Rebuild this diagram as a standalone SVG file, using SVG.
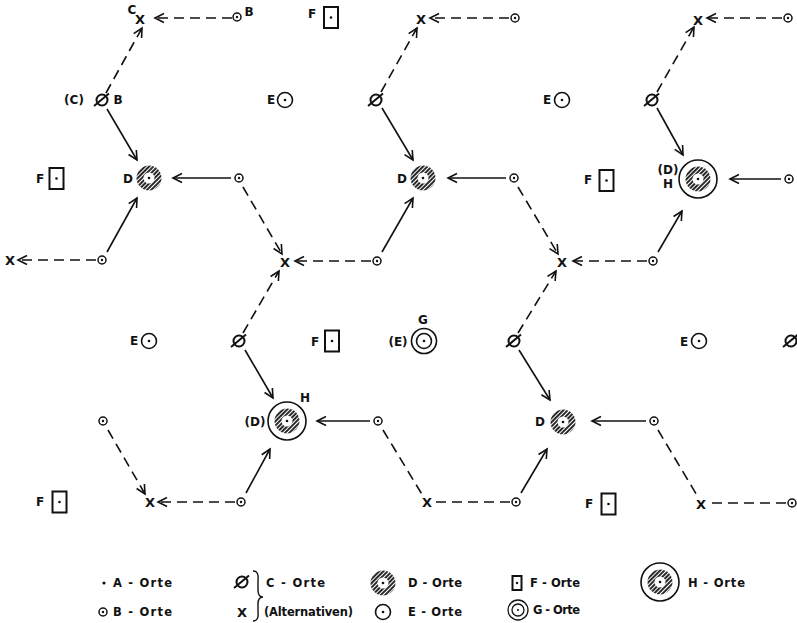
<svg xmlns="http://www.w3.org/2000/svg" xmlns:xlink="http://www.w3.org/1999/xlink" width="797" height="623" viewBox="0 0 797 623">
<style>
.t{font-family:"DejaVu Sans","Liberation Sans",sans-serif;font-weight:bold;font-size:12px;fill:#111;text-anchor:middle}
.x{font-family:"DejaVu Sans","Liberation Sans",sans-serif;font-weight:bold;font-size:13px;fill:#111;text-anchor:middle}
.lg{font-family:"DejaVu Sans","Liberation Sans",sans-serif;font-weight:bold;font-size:11.5px;fill:#111}
.s{fill:none;stroke:#111;stroke-width:1.6}
.d{fill:none;stroke:#111;stroke-width:1.6;stroke-dasharray:10 6}
.a{marker-end:url(#ah)}
</style>
<defs>
<marker id="ah" markerUnits="userSpaceOnUse" markerWidth="12" markerHeight="10" refX="9" refY="4.5" orient="auto" overflow="visible">
<path d="M0,0 L9,4.5 L0,9" fill="none" stroke="#111" stroke-width="1.6"/>
</marker>
<pattern id="hat" patternUnits="userSpaceOnUse" width="3" height="3" patternTransform="rotate(45)">
<rect width="3" height="3" fill="#fff"/>
<line x1="1" y1="0" x2="1" y2="3" stroke="#111" stroke-width="1.8"/>
</pattern>
<g id="sB"><circle r="4" fill="#fff" stroke="#111" stroke-width="1.5"/><circle r="1.2" fill="#111"/></g>
<g id="sC"><circle r="5.5" fill="#fff" stroke="#111" stroke-width="2"/><line x1="-8" y1="6" x2="7" y2="-6.5" stroke="#111" stroke-width="2"/></g>
<g id="sD"><circle r="12.5" fill="url(#hat)"/><circle r="5.5" fill="#fff"/><circle r="1.3" fill="#111"/></g>
<g id="sE"><circle r="7.5" fill="#fff" stroke="#111" stroke-width="1.6"/><circle r="1.3" fill="#111"/></g>
<g id="sF"><rect x="-7" y="-10.5" width="14" height="21" fill="#fff" stroke="#111" stroke-width="2"/><circle r="1.3" fill="#111"/></g>
<g id="sG"><circle r="12.5" fill="#fff" stroke="#111" stroke-width="1.6"/><circle r="7.5" fill="none" stroke="#111" stroke-width="1.6"/><circle r="1.3" fill="#111"/></g>
<g id="sH"><circle r="19" fill="#fff" stroke="#111" stroke-width="1.6"/><circle r="12.5" fill="url(#hat)"/><circle r="5.5" fill="#fff"/><circle r="1.3" fill="#111"/></g>
</defs>
<rect width="797" height="623" fill="#fff"/>

<g id="connectors">
<line class="d a" x1="106" y1="93" x2="142" y2="28"/>
<line class="s a" x1="107" y1="109" x2="137" y2="160"/>
<line class="s a" x1="107" y1="252" x2="137" y2="198"/>
<line class="s a" x1="231" y1="178" x2="173" y2="178"/>
<line class="d a" x1="232" y1="18" x2="155" y2="18"/>
<line class="d a" x1="96" y1="260" x2="18" y2="260"/>
<line class="d a" x1="243" y1="187" x2="282" y2="254"/>
<line class="d a" x1="381" y1="92" x2="417" y2="28"/>
<line class="s a" x1="382" y1="108" x2="413" y2="160"/>
<line class="s a" x1="382" y1="252" x2="413" y2="198"/>
<line class="s a" x1="506" y1="178" x2="448" y2="178"/>
<line class="d a" x1="509" y1="18" x2="430" y2="18"/>
<line class="d a" x1="371" y1="261" x2="295" y2="261"/>
<line class="d a" x1="518" y1="187" x2="558" y2="254"/>
<line class="d a" x1="657" y1="92" x2="694" y2="27"/>
<line class="s a" x1="657" y1="108" x2="683" y2="155"/>
<line class="s a" x1="658" y1="252" x2="682" y2="211"/>
<line class="s a" x1="781" y1="179" x2="730" y2="179"/>
<line class="d a" x1="782" y1="18" x2="707" y2="18"/>
<line class="d a" x1="647" y1="261" x2="573" y2="261"/>
<line class="d a" x1="243" y1="333" x2="279" y2="271"/>
<line class="s a" x1="245" y1="350" x2="273" y2="398"/>
<line class="s a" x1="246" y1="493" x2="270" y2="449"/>
<line class="s a" x1="370" y1="421" x2="317" y2="421"/>
<line class="d a" x1="108" y1="430" x2="145" y2="494"/>
<line class="d a" x1="235" y1="502" x2="158" y2="502"/>
<line class="d" x1="383" y1="430" x2="423" y2="496"/>
<line class="d" x1="510" y1="502" x2="433" y2="502"/>
<line class="d a" x1="518" y1="333" x2="556" y2="271"/>
<line class="s a" x1="519" y1="350" x2="550" y2="400"/>
<line class="s a" x1="521" y1="493" x2="547" y2="449"/>
<line class="s a" x1="646" y1="421" x2="592" y2="421"/>
<line class="d" x1="658" y1="430" x2="698" y2="497"/>
<line class="d" x1="786" y1="503" x2="708" y2="503"/>
</g>

<g id="x1"><text class="x" x="140" y="24">X</text><text class="t" x="132" y="14" font-size="10">C</text></g>
<g id="b1"><use xlink:href="#sB" x="237" y="17"/><text class="t" x="249" y="16">B</text></g>
<g id="f1"><use xlink:href="#sF" x="331" y="17.5"/><text class="t" x="312" y="18">F</text></g>
<g id="x2"><text class="x" x="421" y="24">X</text></g>
<g id="b2"><use xlink:href="#sB" x="515" y="18"/></g>
<g id="x3"><text class="x" x="698" y="25">X</text></g>
<g id="b3"><use xlink:href="#sB" x="788" y="18"/></g>

<g id="c1"><use xlink:href="#sC" x="102" y="100"/><text class="t" x="74" y="104">(C)</text><text class="t" x="118" y="104">B</text></g>
<g id="e1"><use xlink:href="#sE" x="285" y="100"/><text class="t" x="271" y="104">E</text></g>
<g id="c2"><use xlink:href="#sC" x="376" y="100"/></g>
<g id="e2"><use xlink:href="#sE" x="562" y="100"/><text class="t" x="547" y="104">E</text></g>
<g id="c3"><use xlink:href="#sC" x="652" y="100"/></g>

<g id="f2"><use xlink:href="#sF" x="56.5" y="178.5"/><text class="t" x="40" y="183">F</text></g>
<g id="d1"><use xlink:href="#sD" x="149" y="178"/><text class="t" x="128" y="183">D</text></g>
<g id="b4"><use xlink:href="#sB" x="239" y="178"/></g>
<g id="d2"><use xlink:href="#sD" x="423" y="178"/><text class="t" x="402" y="183">D</text></g>
<g id="b5"><use xlink:href="#sB" x="514" y="178"/></g>
<g id="f3"><use xlink:href="#sF" x="606.5" y="180.5"/><text class="t" x="588" y="184">F</text></g>
<g id="h1"><use xlink:href="#sH" x="698" y="179"/><text class="t" x="668" y="174" font-size="11">(D)</text><text class="t" x="668" y="188" font-size="11">H</text></g>
<g id="b6"><use xlink:href="#sB" x="789" y="179"/></g>

<g id="x4"><text class="x" x="10" y="265">X</text></g>
<g id="b7"><use xlink:href="#sB" x="102" y="260"/></g>
<g id="x5"><text class="x" x="285" y="267">X</text></g>
<g id="b8"><use xlink:href="#sB" x="377" y="261"/></g>
<g id="x6"><text class="x" x="562" y="267">X</text></g>
<g id="b9"><use xlink:href="#sB" x="653" y="261"/></g>

<g id="e3"><use xlink:href="#sE" x="149" y="341"/><text class="t" x="134" y="345">E</text></g>
<g id="c4"><use xlink:href="#sC" x="239" y="341"/></g>
<g id="f4"><use xlink:href="#sF" x="332" y="341"/><text class="t" x="315" y="346">F</text></g>
<g id="g1"><use xlink:href="#sG" x="424" y="341"/><text class="t" x="398" y="346">(E)</text><text class="t" x="423" y="324">G</text></g>
<g id="c5"><use xlink:href="#sC" x="514" y="341"/></g>
<g id="e4"><use xlink:href="#sE" x="699" y="341"/><text class="t" x="684" y="346">E</text></g>
<g id="c6"><use xlink:href="#sC" x="791" y="341"/></g>

<g id="b10"><use xlink:href="#sB" x="103" y="421"/></g>
<g id="h2"><use xlink:href="#sH" x="287" y="421"/><text class="t" x="255" y="426">(D)</text><text class="t" x="305" y="402">H</text></g>
<g id="b11"><use xlink:href="#sB" x="378" y="421"/></g>
<g id="d3"><use xlink:href="#sD" x="563" y="422"/><text class="t" x="540" y="426">D</text></g>
<g id="b12"><use xlink:href="#sB" x="654" y="421"/></g>

<g id="f5"><use xlink:href="#sF" x="59.5" y="502"/><text class="t" x="40" y="506">F</text></g>
<g id="x7"><text class="x" x="150" y="507">X</text></g>
<g id="b13"><use xlink:href="#sB" x="241" y="502"/></g>
<g id="x8"><text class="x" x="427" y="507">X</text></g>
<g id="b14"><use xlink:href="#sB" x="516" y="502"/></g>
<g id="f6"><use xlink:href="#sF" x="608.5" y="504"/><text class="t" x="589" y="508">F</text></g>
<g id="x9"><text class="x" x="701" y="509">X</text></g>
<g id="b15"><use xlink:href="#sB" x="792" y="503"/></g>

<g id="legend">
<circle cx="104" cy="583" r="1.6" fill="#111"/>
<text class="lg" x="113" y="587" textLength="59">A - Orte</text>
<use xlink:href="#sB" x="103" y="612"/>
<text class="lg" x="113" y="616" textLength="59">B - Orte</text>
<use xlink:href="#sC" x="242" y="582"/>
<text class="x" x="242" y="617">X</text>
<path d="M253,571 Q259,571 258,580 L258,590 Q258,597 263,597 Q258,597 258,604 L258,612 Q259,621 253,621" fill="none" stroke="#111" stroke-width="1.4"/>
<text class="lg" x="266" y="587" textLength="59">C - Orte</text>
<text class="lg" x="264" y="616" textLength="89">(Alternativen)</text>
<use xlink:href="#sD" x="383" y="583"/>
<text class="lg" x="408" y="587" textLength="54">D - Orte</text>
<use xlink:href="#sE" x="383" y="612"/>
<text class="lg" x="408" y="616" textLength="54">E - Orte</text>
<rect x="512.5" y="576" width="9" height="14" fill="#fff" stroke="#111" stroke-width="2"/>
<circle cx="517" cy="583" r="1.2" fill="#111"/>
<text class="lg" x="530" y="587" textLength="50">F - Orte</text>
<g transform="translate(518,610) scale(0.8)"><use xlink:href="#sG"/></g>
<text class="lg" x="533" y="614" textLength="47">G - Orte</text>
<use xlink:href="#sH" x="660" y="582"/>
<text class="lg" x="688" y="587" textLength="57">H - Orte</text>
</g>
</svg>
